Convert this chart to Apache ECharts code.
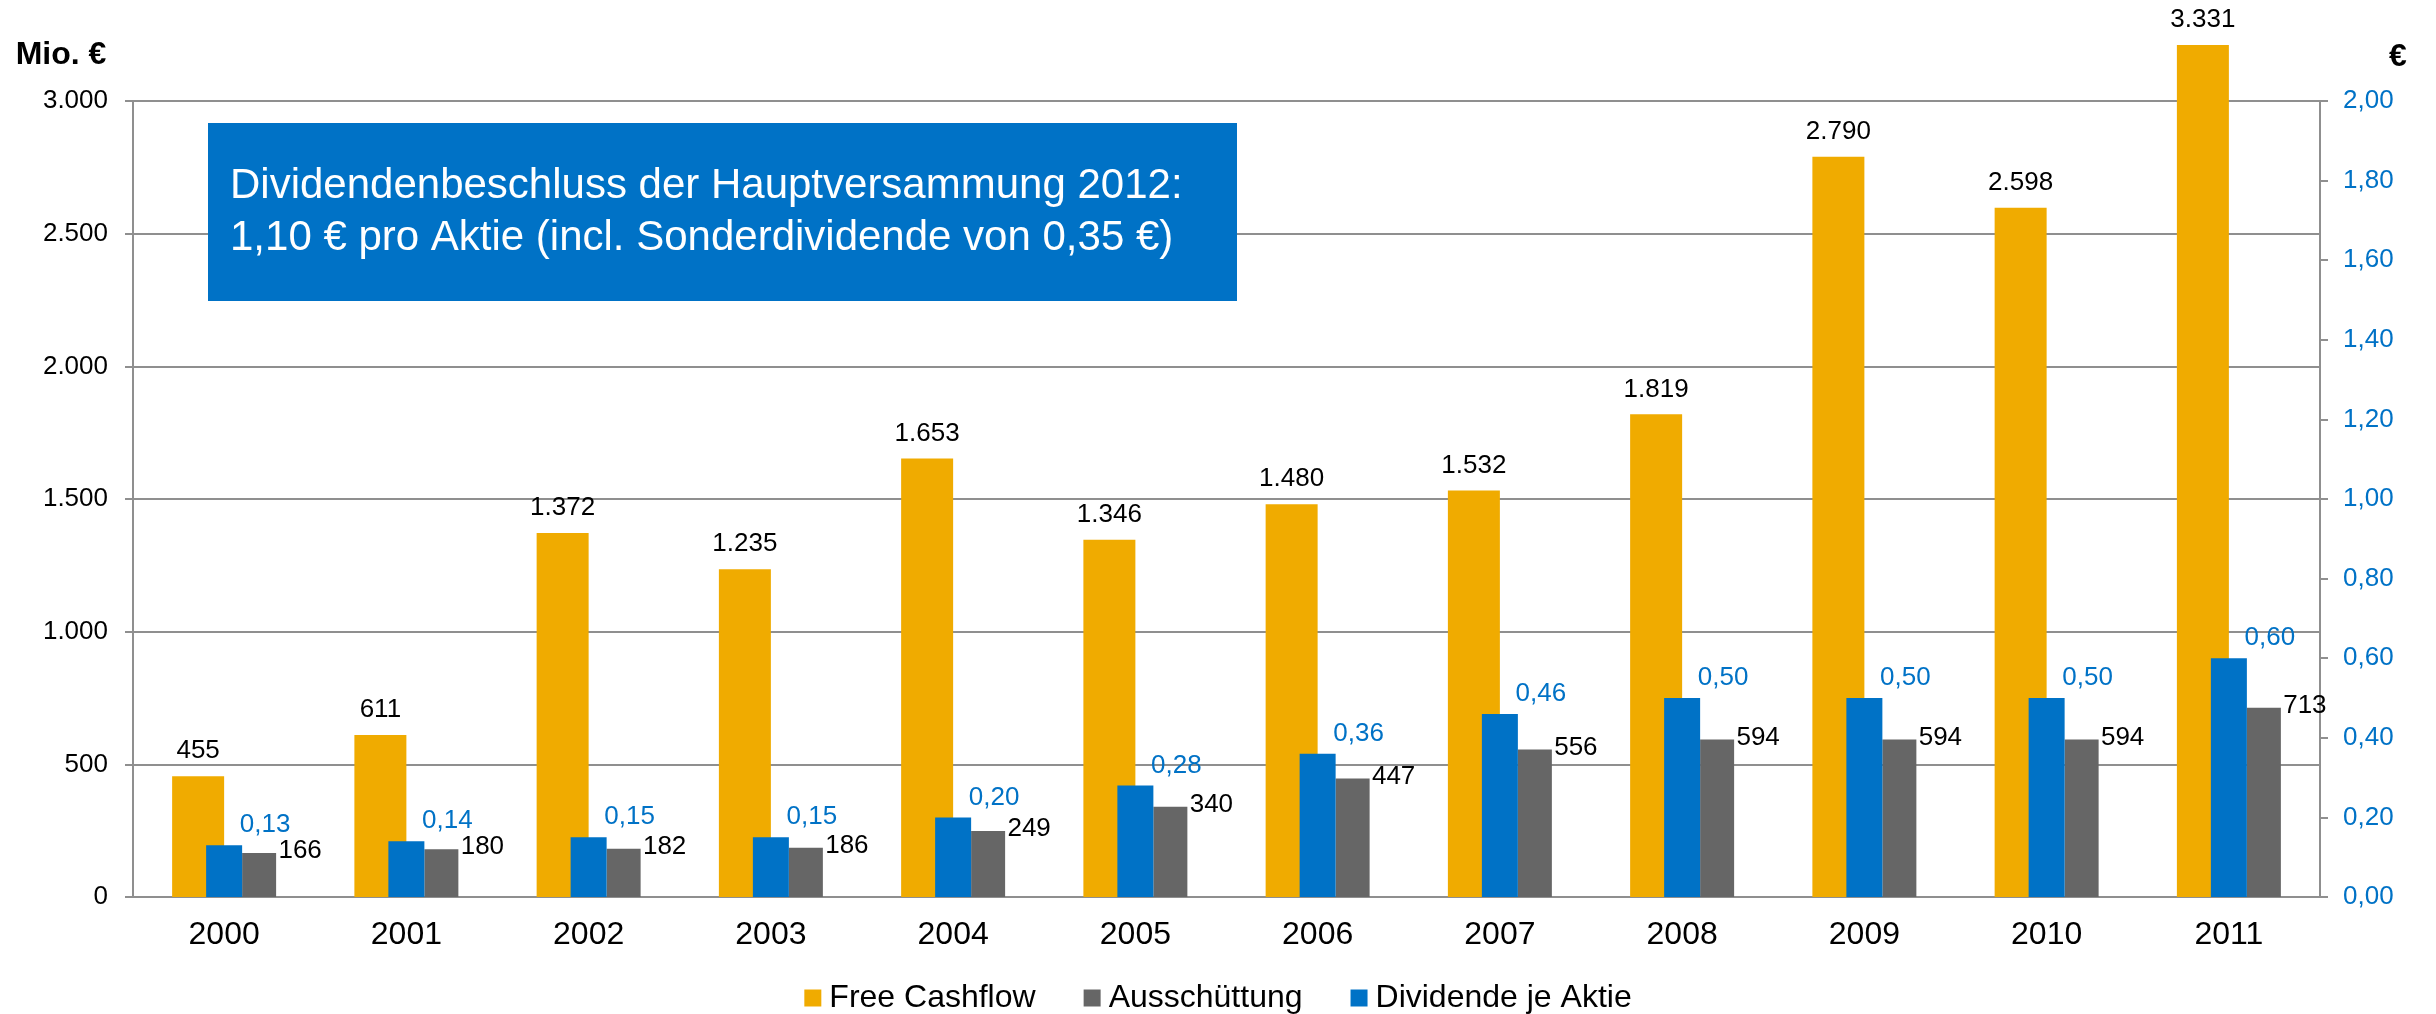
<!DOCTYPE html>
<html lang="de" style="height: 100%">

<head>
    <meta charset="utf-8" />
    <script src="https://cdn.jsdelivr.net/npm/echarts@6.0.0/dist/echarts.min.js"></script>
</head>

<body style="height: 100%; margin: 0; background: #fff">
    <div id="container" style="width: 2436px;height: 1014px;"></div>
    <script type="text/javascript">
        // Daten
        const years = ['2000', '2001', '2002', '2003', '2004', '2005', '2006', '2007', '2008', '2009', '2010', '2011'];
        const freeCashflow = [455, 611, 1372, 1235, 1653, 1346, 1480, 1532, 1819, 2790, 2598, 3331];
        const ausschuettung = [166, 180, 182, 186, 249, 340, 447, 556, 594, 594, 594, 713];
        const dividende = [0.13, 0.14, 0.15, 0.15, 0.20, 0.28, 0.36, 0.46, 0.50, 0.50, 0.50, 0.60];
        const leftAxis = { min: 0, max: 3000, interval: 500 };
        const rightAxis = { min: 0, max: 2, interval: 0.2 };

        const colors = ['#F0AB00', '#666666', '#0072C6'];
        const font = '"Liberation Sans", Arial, sans-serif';
        const gridColor = '#8F8F8F';

        // Plotbereich (px)
        const plotLeft = 133, plotRight = 116, plotTop = 101, plotBottom = 117;
        const barTop = 45; // Balken enden oben am Bildrand des Plots
        const plotH = 1014 - plotTop - plotBottom;
        const barH = 1014 - barTop - plotBottom;
        const barMax = leftAxis.max * barH / plotH;

        function fmtDE(v) {
            return String(Math.round(v)).replace(/\B(?=(\d{3})+(?!\d))/g, '.');
        }
        function fmtEUR(v) {
            return Number(v).toFixed(2).replace('.', ',');
        }

        var dom = document.getElementById('container');
        var myChart = echarts.init(dom, null, { renderer: 'canvas' });

        var option = {
            animation: false,
            backgroundColor: '#ffffff',
            textStyle: { fontFamily: font },
            legend: {
                data: ['Free Cashflow', 'Ausschüttung', 'Dividende je Aktie'],
                left: 'center',
                top: 977,
                icon: 'rect',
                itemWidth: 17,
                itemHeight: 17,
                itemGap: 48,
                textStyle: { fontSize: 32, color: '#000', fontFamily: font, padding: [0, 0, 0, 3] }
            },
            grid: [{
                    left: plotLeft, right: plotRight, top: plotTop, bottom: plotBottom,
                    outerBoundsMode: 'none'
                },
                {
                    left: plotLeft, right: plotRight, top: barTop, bottom: plotBottom,
                    outerBoundsMode: 'none'
                }
            ],
            xAxis: [{
                    type: 'category',
                    gridIndex: 0,
                    data: years,
                    axisLine: { lineStyle: { color: gridColor, width: 2 } },
                    axisTick: { length: 9, lineStyle: { color: gridColor, width: 2 } },
                    axisLabel: { fontSize: 32, color: '#000', margin: 22, fontFamily: font }
                },
                {
                    type: 'category',
                    gridIndex: 0,
                    data: years,
                    show: false
                },
                {
                    type: 'category',
                    gridIndex: 1,
                    data: years,
                    show: false
                }
            ],
            yAxis: [{
                    type: 'value',
                    gridIndex: 0,
                    position: 'left',
                    min: leftAxis.min,
                    max: leftAxis.max,
                    interval: leftAxis.interval,
                    axisLine: { show: true, lineStyle: { color: gridColor, width: 2 } },
                    axisTick: { show: true, length: 8, lineStyle: { color: gridColor, width: 2 } },
                    splitLine: { show: true, lineStyle: { color: gridColor, width: 2 } },
                    axisLabel: { fontSize: 26, color: '#000', margin: 25, formatter: fmtDE, fontFamily: font }
                },
                {
                    type: 'value',
                    gridIndex: 0,
                    position: 'right',
                    min: rightAxis.min,
                    max: rightAxis.max,
                    interval: rightAxis.interval,
                    axisLine: { show: true, lineStyle: { color: gridColor, width: 2 } },
                    axisTick: { show: true, length: 8, lineStyle: { color: gridColor, width: 2 } },
                    splitLine: { show: false },
                    axisLabel: { fontSize: 26, color: colors[2], margin: 23, formatter: fmtEUR, fontFamily: font }
                },
                {
                    type: 'value',
                    gridIndex: 1,
                    min: 0,
                    max: barMax,
                    show: false,
                    splitLine: { show: false }
                }
            ],
            graphic: [{
                    type: 'rect',
                    left: 208,
                    top: 123,
                    shape: { width: 1029, height: 178 },
                    style: { fill: '#0072C6' },
                    z: 10
                },
                {
                    type: 'text',
                    left: 230,
                    top: 160,
                    style: {
                        text: 'Dividendenbeschluss der Hauptversammung 2012:\n1,10 € pro Aktie (incl. Sonderdividende von 0,35 €)',
                        font: '42px ' + font,
                        lineHeight: 52,
                        fill: '#ffffff'
                    },
                    z: 11
                },
                {
                    type: 'text',
                    x: 61,
                    y: 55,
                    style: {
                        text: 'Mio. €',
                        font: 'bold 32px ' + font,
                        fill: '#000',
                        align: 'center',
                        verticalAlign: 'middle'
                    }
                },
                {
                    type: 'text',
                    x: 2398,
                    y: 57,
                    style: {
                        text: '€',
                        font: 'bold 32px ' + font,
                        fill: '#000',
                        align: 'center',
                        verticalAlign: 'middle'
                    }
                }
            ],
            series: [{
                    name: 'Free Cashflow',
                    type: 'bar',
                    xAxisIndex: 2,
                    yAxisIndex: 2,
                    barWidth: 52,
                    barGap: '34.6%',
                    color: colors[0],
                    data: freeCashflow,
                    label: {
                        show: true,
                        position: 'top',
                        distance: 12,
                        fontSize: 26,
                        color: '#000',
                        fontFamily: font,
                        formatter: function (p) { return fmtDE(p.value); }
                    }
                },
                {
                    name: 'Ausschüttung',
                    type: 'bar',
                    xAxisIndex: 2,
                    yAxisIndex: 2,
                    barWidth: 34,
                    barGap: '34.6%',
                    color: colors[1],
                    data: ausschuettung,
                    label: {
                        show: true,
                        position: 'top',
                        distance: 5,
                        offset: [41, 16],
                        fontSize: 26,
                        color: '#000',
                        fontFamily: font,
                        formatter: function (p) { return fmtDE(p.value); }
                    }
                },
                {
                    name: 'Dividende je Aktie',
                    type: 'bar',
                    xAxisIndex: 1,
                    yAxisIndex: 1,
                    barWidth: 36,
                    color: colors[2],
                    data: dividende,
                    label: {
                        show: true,
                        position: 'top',
                        distance: 5,
                        offset: [41, -2],
                        fontSize: 26,
                        color: colors[2],
                        fontFamily: font,
                        formatter: function (p) { return fmtEUR(p.value); }
                    }
                }
            ]
        };

        if (option && typeof option === 'object') {
            myChart.setOption(option);
        }

        window.addEventListener('resize', myChart.resize);
    </script>
</body>

</html>
